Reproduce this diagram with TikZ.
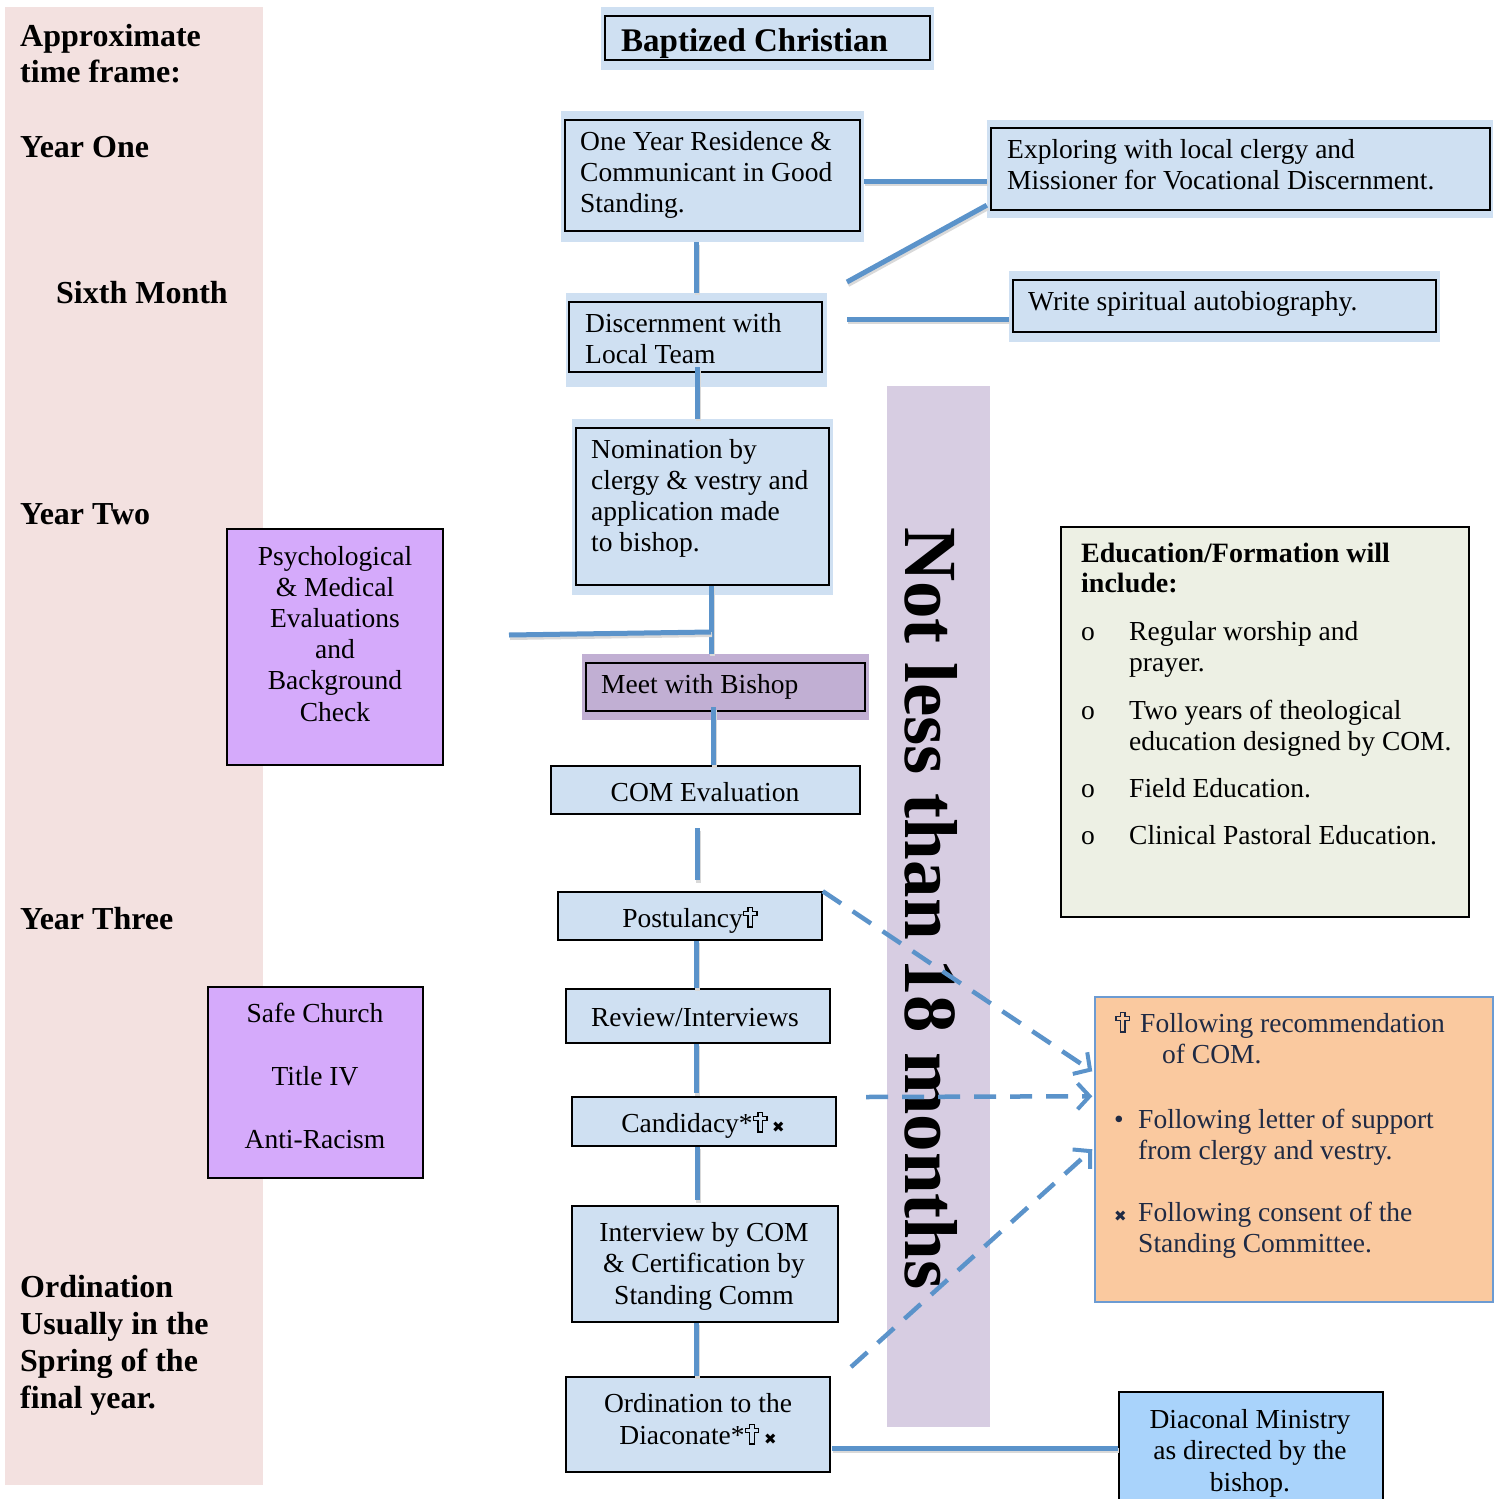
\documentclass[tikz,border=0pt]{standalone}
\usepackage{fontspec}
\setmainfont{Liberation Serif}
\newfontfamily\djv{DejaVu Sans}
\usetikzlibrary{fit,calc,arrows.meta}
\definecolor{pinkband}{HTML}{F3E1E0}
\definecolor{haloblue}{HTML}{CFE0F2}
\definecolor{bishopc}{HTML}{C1AFD3}
\definecolor{violetc}{HTML}{D5AAFB}
\definecolor{bandc}{HTML}{D7CDE2}
\definecolor{educ}{HTML}{EDF0E4}
\definecolor{orangec}{HTML}{FAC99F}
\definecolor{orangeb}{HTML}{6C9BD2}
\definecolor{diacc}{HTML}{A9D3FB}
\definecolor{lineblue}{HTML}{5B93CA}
\definecolor{navy}{HTML}{1F2A44}
\newcommand{\tabL}[1]{\begin{tabular}[t]{@{}l@{}}#1\end{tabular}}
\newcommand{\tabC}[1]{\begin{tabular}[t]{@{}c@{}}#1\end{tabular}}
\newcommand{\crs}{\tikz[x=1pt,y=1pt,baseline=0pt]{\draw[line width=1.3pt,line join=miter]
  (5,0)--(9.5,0)--(9.5,11.5)--(14,11.5)--(14,15.5)--(9.5,15.5)--(9.5,19.5)--(5,19.5)--(5,15.5)--(0.5,15.5)--(0.5,11.5)--(5,11.5)--cycle;}}
\newcommand{\sxx}{{\djv\fontsize{15}{15}\selectfont ✖}}
\begin{document}
\begin{tikzpicture}[x=1pt,y=-1pt,
  halo/.style={fill=haloblue,draw=none,inner sep=0pt},
  inbox/.style={fill=haloblue,draw=black,line width=1.5pt,inner sep=0pt},
  txt/.style={inner sep=0pt,font=\fontsize{27.5}{31}\selectfont},
  ltxt/.style={inner sep=0pt,anchor=base west,font=\bfseries\fontsize{32}{36.5}\selectfont},
  conn/.style={draw=lineblue,line width=5pt,
    preaction={draw=black!15,line width=5pt,transform canvas={shift={(1pt,-2.5pt)}}}},
  dconn/.style={draw=lineblue,line width=4.5pt,dash pattern=on 22pt off 14pt,
    -{Straight Barb[length=12pt,width=26pt,line width=4pt]}}
]
\useasboundingbox (0,0) rectangle (1500,1499);
\fill[white] (0,0) rectangle (1500,1499);

% left time-frame band
\node[fill=pinkband,inner sep=0pt,fit={(5,7)(263,1485)}] (pink) {};
\node[ltxt] (tf) at (20,46) {\tabL{Approximate\\time frame:}};
\node[ltxt] (y1) at (20,157) {Year One};
\node[ltxt] (m6) at (56,303) {Sixth Month};
\node[ltxt] (y2) at (20,524) {Year Two};
\node[ltxt] (y3) at (20,929) {Year Three};
\node[ltxt,font=\bfseries\fontsize{32}{37}\selectfont] (ordn) at (20,1297) {\tabL{Ordination\\Usually in the\\Spring of the\\final year.}};

% lavender band
\node[fill=bandc,inner sep=0pt,fit={(887,386)(990,1427)}] (band) {};
\node[inner sep=0pt,rotate=-90,anchor=base west,font=\bfseries\fontsize{75}{80}\selectfont] (bandT) at (905,527) {Not less than 18 months};

% top boxes with halo
\node[halo,fit={(601,7)(934,70)}] (baptH) {};
\node[inbox,fit={(605,16)(930,60)}] (bapt) {};
\node[txt,anchor=base west,font=\bfseries\fontsize{33}{36}\selectfont] (baptT) at (621,51) {Baptized Christian};

\node[halo,fit={(561,111)(864,242)}] (oneH) {};
\node[inbox,fit={(565,120)(860,231)}] (one) {};
\node[txt,anchor=base west] (oneT) at (580,150) {\tabL{One Year Residence \&\\Communicant in Good\\Standing.}};

\node[halo,fit={(987,120)(1493,218)}] (explH) {};
\node[inbox,fit={(991,128)(1490,210)}] (expl) {};
\node[txt,anchor=base west] (explT) at (1007,158) {\tabL{Exploring with local clergy and\\Missioner for Vocational Discernment.}};

\node[halo,fit={(1009,271)(1440,342)}] (writeH) {};
\node[inbox,fit={(1013,280)(1436,332)}] (write) {};
\node[txt,anchor=base west] (writeT) at (1028,310) {Write spiritual autobiography.};

\node[halo,fit={(566,293)(827,387)}] (discH) {};
\node[inbox,fit={(569,302)(822,372)}] (disc) {};
\node[txt,anchor=base west] (discT) at (585,332) {\tabL{Discernment with\\Local Team}};

\node[halo,fit={(572,419)(833,595)}] (nomH) {};
\node[inbox,fit={(576,428)(829,585)}] (nom) {};
\node[txt,anchor=base west] (nomT) at (591,458) {\tabL{Nomination by\\clergy \& vestry and\\application made\\to bishop.}};

\node[fill=bishopc,inner sep=0pt,fit={(582,654)(869,720)}] (meetH) {};
\node[fill=bishopc,draw=black,line width=1.5pt,inner sep=0pt,fit={(586,663)(865,711)}] (meet) {};
\node[txt,anchor=base west] (meetT) at (601,693) {Meet with Bishop};

% single boxes
\node[inbox,fit={(551,766)(860,814)}] (com) {};
\node[txt,anchor=base] (comT) at (705,801) {COM Evaluation};
\node[inbox,fit={(558,892)(822,940)}] (post) {};
\node[txt,anchor=base] (postT) at (690,927) {Postulancy\crs};
\node[inbox,fit={(566,989)(830,1043)}] (rev) {};
\node[txt,anchor=base] (revT) at (695,1026) {Review/Interviews};
\node[inbox,fit={(572,1097)(836,1146)}] (cand) {};
\node[txt,anchor=base] (candT) at (703,1132) {Candidacy*\crs\,\sxx};
\node[inbox,fit={(572,1206)(838,1322)}] (intv) {};
\node[txt,anchor=base,font=\fontsize{27.5}{31.5}\selectfont] (intvT) at (704,1241) {\tabC{Interview by COM\\\& Certification by\\Standing Comm}};
\node[inbox,fit={(566,1377)(830,1472)}] (ord) {};
\node[txt,anchor=base,font=\fontsize{27.5}{32}\selectfont] (ordT) at (698,1412) {\tabC{Ordination to the\\Diaconate*\crs\,\sxx}};
\node[fill=diacc,draw=black,line width=1.5pt,inner sep=0pt,fit={(1119,1392)(1383,1515)}] (diac) {};
\node[txt,anchor=base,font=\fontsize{27.5}{31.5}\selectfont] (diacT) at (1250,1428) {\tabC{Diaconal Ministry\\as directed by the\\bishop.}};

% violet boxes
\node[fill=violetc,draw=black,line width=1.5pt,inner sep=0pt,fit={(227,529)(443,765)}] (psy) {};
\node[txt,anchor=base,font=\fontsize{27.5}{31.2}\selectfont] (psyT) at (335,565) {\tabC{Psychological\\\& Medical\\Evaluations\\and\\Background\\Check}};
\node[fill=violetc,draw=black,line width=1.5pt,inner sep=0pt,fit={(208,987)(423,1178)}] (safe) {};
\node[txt,anchor=base] (safeT) at (315,1022) {\tabC{Safe Church\\[32pt]Title IV\\[32pt]Anti-Racism}};

% education box
\node[fill=educ,draw=black,line width=1.5pt,inner sep=0pt,fit={(1061,527)(1469,917)}] (edu) {};
\node[txt,anchor=base west,font=\bfseries\fontsize{28}{30}\selectfont] (eduT) at (1081,562) {\tabL{Education/Formation will\\include:}};
\node[txt,anchor=base west] (eb1) at (1081,640) {o};
\node[txt,anchor=base west] (ei1) at (1129,640) {\tabL{Regular worship and\\prayer.}};
\node[txt,anchor=base west] (eb2) at (1081,719) {o};
\node[txt,anchor=base west] (ei2) at (1129,719) {\tabL{Two years of theological\\education designed by COM.}};
\node[txt,anchor=base west] (eb3) at (1081,797) {o};
\node[txt,anchor=base west] (ei3) at (1129,797) {Field Education.};
\node[txt,anchor=base west] (eb4) at (1081,844) {o};
\node[txt,anchor=base west] (ei4) at (1129,844) {Clinical Pastoral Education.};

% orange box
\node[fill=orangec,draw=orangeb,line width=1.5pt,inner sep=0pt,fit={(1095,997)(1493,1302)}] (orng) {};
\begin{scope}[every node/.append style={text=navy}]
\node[txt,anchor=base west] (ob1) at (1115,1032) {\crs};
\node[txt,anchor=base west] (oi1) at (1140,1032) {Following recommendation};
\node[txt,anchor=base west] (oi1b) at (1162,1063) {of COM.};
\node[txt,anchor=base west] (ob2) at (1114,1128) {\textbullet};
\node[txt,anchor=base west] (oi2) at (1138,1128) {\tabL{Following letter of support\\from clergy and vestry.}};
\node[txt,anchor=base west] (ob3) at (1114,1221) {\sxx};
\node[txt,anchor=base west] (oi3) at (1138,1221) {\tabL{Following consent of the\\Standing Committee.}};
\end{scope}

% named coordinates for connector ends
\coordinate (xa) at (696,0);
\coordinate (xb) at (697,0);
\coordinate (xc) at (711,0);
\coordinate (xd) at (713,0);
\coordinate (c1) at ($(oneH.east)+(0,4.5)$);
\coordinate (d1) at (847,282);
\coordinate (d2) at (847,319);
\coordinate (h1) at (509,635);
\coordinate (h2) at (711,632);
\coordinate (g1) at (697,828);
\coordinate (g2) at (697,880);
\coordinate (g3) at (696,1093);
\coordinate (g4) at (697,1200);
\coordinate (c9) at (832,1448);
\coordinate (s1) at (866,1097);
\coordinate (s2) at (851,1367);
\coordinate (t1) at ($(orng.north west)+(-2,75)$);
\coordinate (t2) at ($(orng.north west)+(-2,100)$);
\coordinate (t3) at ($(orng.north west)+(-2,153)$);

% solid connectors
\draw[conn] (c1) -- (c1 -| explH.west);
\draw[conn] (d1) -- ($(explH.south west)+(0,-13)$);
\draw[conn] (d2) -- (d2 -| writeH.west);
\draw[conn] (xa |- oneH.south) -- (xa |- discH.north);
\draw[conn] (xb |- 0,367) -- (xb |- nomH.north);
\draw[conn] (xc |- nom.south) -- (xc |- meetH.north);
\draw[conn] (h1) -- (h2);
\draw[conn] (xd |- 0,707) -- (xd |- com.north);
\draw[conn] (g1) -- (g2);
\draw[conn] (xa |- post.south) -- (xa |- rev.north);
\draw[conn] (xa |- rev.south) -- (g3);
\draw[conn] (xb |- cand.south) -- (g4);
\draw[conn] (xa |- intv.south) -- (xa |- ord.north);
\draw[conn] (c9) -- (c9 -| diac.west);

% dashed arrows
\draw[dconn] (post.north east) -- (t1);
\draw[dconn] (s1) -- (t2);
\draw[dconn] (s2) -- (t3);
\end{tikzpicture}
\end{document}
